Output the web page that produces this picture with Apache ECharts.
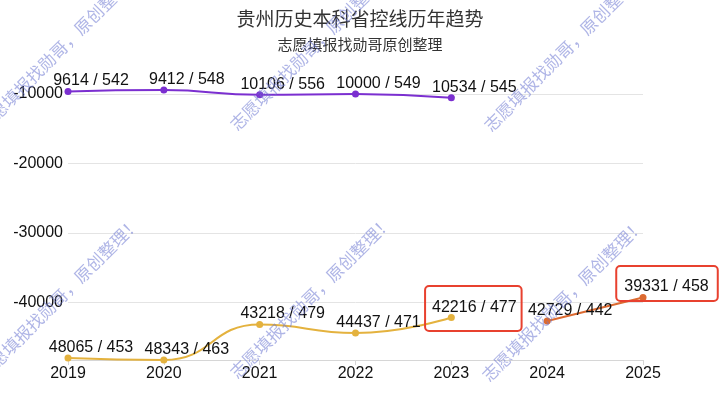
<!DOCTYPE html>
<html><head><meta charset="utf-8">
<script src="https://cdn.jsdelivr.net/npm/echarts@6/dist/echarts.min.js"></script>
<style>html,body{margin:0;padding:0;background:#fff}#c{width:720px;height:398px}</style>
</head><body><div id="c"></div>
<script>
const years = ['2019','2020','2021','2022','2023','2024','2025'];
const rankA = [9614, 9412, 10106, 10000, 10534];
const scoreA = [542, 548, 556, 549, 545];
const rankB = [48065, 48343, 43218, 44437, 42216];
const scoreB = [453, 463, 479, 471, 477];
const rankC = [null, null, null, null, null, 42729, 39331];
const scoreC = [null, null, null, null, null, 442, 458];
const yTicks = [-10000, -20000, -30000, -40000];
const allRanks = rankA.concat(rankB, rankC.filter(v => v != null));
const yMin = -Math.max.apply(null, allRanks);
const yMax = -Math.min.apply(null, allRanks);

const FONT = "'Liberation Sans', Arial, 'Noto Sans CJK SC', sans-serif";
const CJK = "'Noto Sans CJK SC', sans-serif";

function mk(ranks, scores, boxed) {
  return ranks.map((r, i) => {
    if (r == null) return null;
    const item = { value: -r, score: scores[i] };
    if (boxed[i]) item.label = boxed[i];
    return item;
  });
}
const boxBase = { borderColor: '#e8412f', borderWidth: 2, borderRadius: 4 };
const dataA = mk(rankA, scoreA, {});
const dataB = mk(rankB, scoreB, { 4: Object.assign({ padding: [14, 5, 15, 7], offset: [22, 22] }, boxBase) });
const dataC = mk(rankC, scoreC, { 6: Object.assign({ padding: [13, 9, 6, 8], offset: [24, 12] }, boxBase) });

const labelCfg = {
  show: true, position: 'top', distance: 5, offset: [23, 6],
  fontSize: 16, color: '#111', fontFamily: FONT,
  formatter: p => (-p.value) + ' / ' + p.data.score
};

function wm(x, y) {
  return {
    type: 'text', x: x, y: y, rotation: Math.PI / 4, z: 100, silent: true,
    style: { text: '志愿填报找勋哥，原创整理！', fontSize: 17, fontFamily: CJK,
      fill: 'rgba(110,120,210,0.55)', textAlign: 'center', textVerticalAlign: 'middle' }
  };
}

const chart = echarts.init(document.getElementById('c'));
chart.setOption({
  animation: false,
  title: {
    text: '贵州历史本科省控线历年趋势', subtext: '志愿填报找勋哥原创整理',
    left: 'center', top: 4, itemGap: 9,
    textStyle: { fontSize: 19, fontWeight: 'normal', color: '#333', fontFamily: CJK },
    subtextStyle: { fontSize: 15, color: '#333', fontFamily: CJK }
  },
  grid: { left: 68, right: 77, top: 90, bottom: 38 },
  xAxis: {
    type: 'category', data: years, boundaryGap: false,
    axisLine: { lineStyle: { color: '#d6d6d6' } },
    axisTick: { show: true, length: 5, lineStyle: { color: '#d6d6d6' } },
    axisLabel: { fontSize: 16, color: '#111', margin: 6, fontFamily: FONT }
  },
  yAxis: {
    type: 'value', min: yMin, max: yMax,
    axisLine: { show: false }, axisTick: { show: false },
    axisLabel: { fontSize: 16, color: '#111', margin: 5, fontFamily: FONT,
      showMinLabel: false, showMaxLabel: false,
      formatter: v => yTicks.indexOf(v) >= 0 ? String(v) : '' },
    splitLine: { lineStyle: { color: ['#e4e4e4', '#e4e4e4', '#e4e4e4', '#e4e4e4', '#e4e4e4', 'rgba(0,0,0,0)'] } }
  },
  series: [
    { type: 'line', name: 'A', data: dataA, smooth: true, symbol: 'circle', symbolSize: 7,
      itemStyle: { color: '#7b2fd0' }, lineStyle: { width: 2, color: '#7b2fd0' }, label: labelCfg },
    { type: 'line', name: 'B', data: dataB, smooth: true, symbol: 'circle', symbolSize: 7,
      itemStyle: { color: '#e4b23e' }, lineStyle: { width: 2, color: '#e4b23e' }, label: labelCfg },
    { type: 'line', name: 'C', data: dataC, smooth: true, symbol: 'circle', symbolSize: 7,
      itemStyle: { color: '#dc6a31' }, lineStyle: { width: 2, color: '#dc6a31' }, label: labelCfg }
  ],
  graphic: [wm(59, 50), wm(311, 49), wm(565, 50), wm(59, 298), wm(311, 297), wm(563, 300)]
});
</script></body></html>
